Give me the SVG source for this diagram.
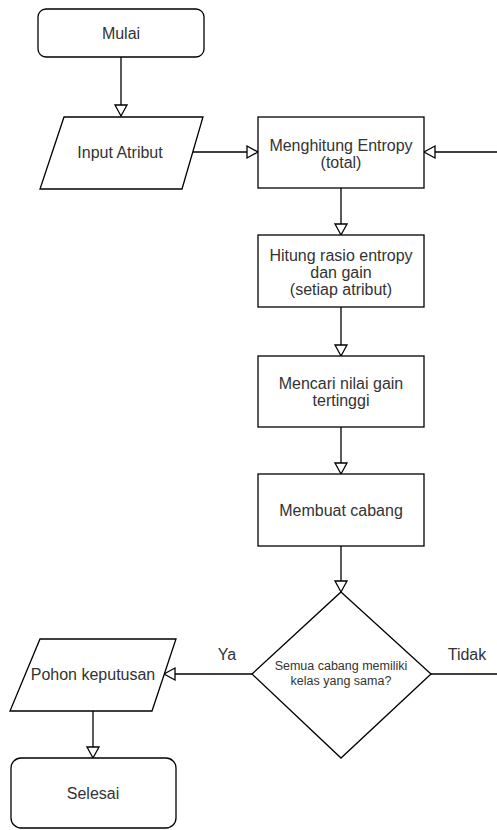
<svg xmlns="http://www.w3.org/2000/svg" width="497" height="830" viewBox="0 0 497 830">
<style>
.s{fill:#fff;stroke:#000;stroke-width:1.3}
.c{fill:none;stroke:#000;stroke-width:1.3}
text{font-family:"Liberation Sans",Arial,sans-serif;font-size:16px;fill:#333;text-anchor:middle;dominant-baseline:central}
.sm{font-size:12.5px}
</style>
<defs>
<marker id="a" markerUnits="userSpaceOnUse" markerWidth="16" markerHeight="16" refX="12" refY="7" orient="auto">
<path d="M1,1 L12,7 L1,13 Z" fill="#fff" stroke="#000" stroke-width="1.3"/>
</marker>
</defs>
<rect width="497" height="830" fill="#fff"/>
<g id="connectors">
<path class="c" d="M121,57 V116" marker-end="url(#a)"/>
<path class="c" d="M192,152 H258" marker-end="url(#a)"/>
<path class="c" d="M497,152 H424" marker-end="url(#a)"/>
<path class="c" d="M341,188 V235" marker-end="url(#a)"/>
<path class="c" d="M341,307 V356" marker-end="url(#a)"/>
<path class="c" d="M341,427 V474" marker-end="url(#a)"/>
<path class="c" d="M341,546 V592" marker-end="url(#a)"/>
<path class="c" d="M252,674 H164" marker-end="url(#a)"/>
<path class="c" d="M431,674 H497"/>
<path class="c" d="M93,711 V758" marker-end="url(#a)"/>
<text x="227" y="654">Ya</text>
<text x="467" y="654">Tidak</text>
</g>
<g id="mulai">
<rect class="s" x="38" y="9" width="166" height="48" rx="8"/>
<text x="121" y="33">Mulai</text>
</g>
<g id="input">
<polygon class="s" points="64,117 203,117 182,189 40,189"/>
<text x="120" y="152">Input Atribut</text>
</g>
<g id="entropy">
<rect class="s" x="258" y="117" width="166" height="71"/>
<text x="341" y="145">Menghitung Entropy</text>
<text x="341" y="162">(total)</text>
</g>
<g id="rasio">
<rect class="s" x="258" y="235" width="166" height="72"/>
<text x="341" y="255">Hitung rasio entropy</text>
<text x="341" y="272">dan gain</text>
<text x="341" y="289">(setiap atribut)</text>
</g>
<g id="gain">
<rect class="s" x="258" y="356" width="166" height="71"/>
<text x="341" y="383">Mencari nilai gain</text>
<text x="341" y="400">tertinggi</text>
</g>
<g id="cabang">
<rect class="s" x="258" y="474" width="166" height="72"/>
<text x="341" y="510">Membuat cabang</text>
</g>
<g id="decision">
<polygon class="s" points="341,592 431,674 341,758 252,674"/>
<text class="sm" x="341" y="666">Semua cabang memiliki</text>
<text class="sm" x="341" y="681">kelas yang sama?</text>
</g>
<g id="pohon">
<polygon class="s" points="40,639 176,639 152,711 10,711"/>
<text x="93" y="674">Pohon keputusan</text>
</g>
<g id="selesai">
<rect class="s" x="11" y="758" width="165" height="70" rx="10"/>
<text x="93" y="793">Selesai</text>
</g>
</svg>
